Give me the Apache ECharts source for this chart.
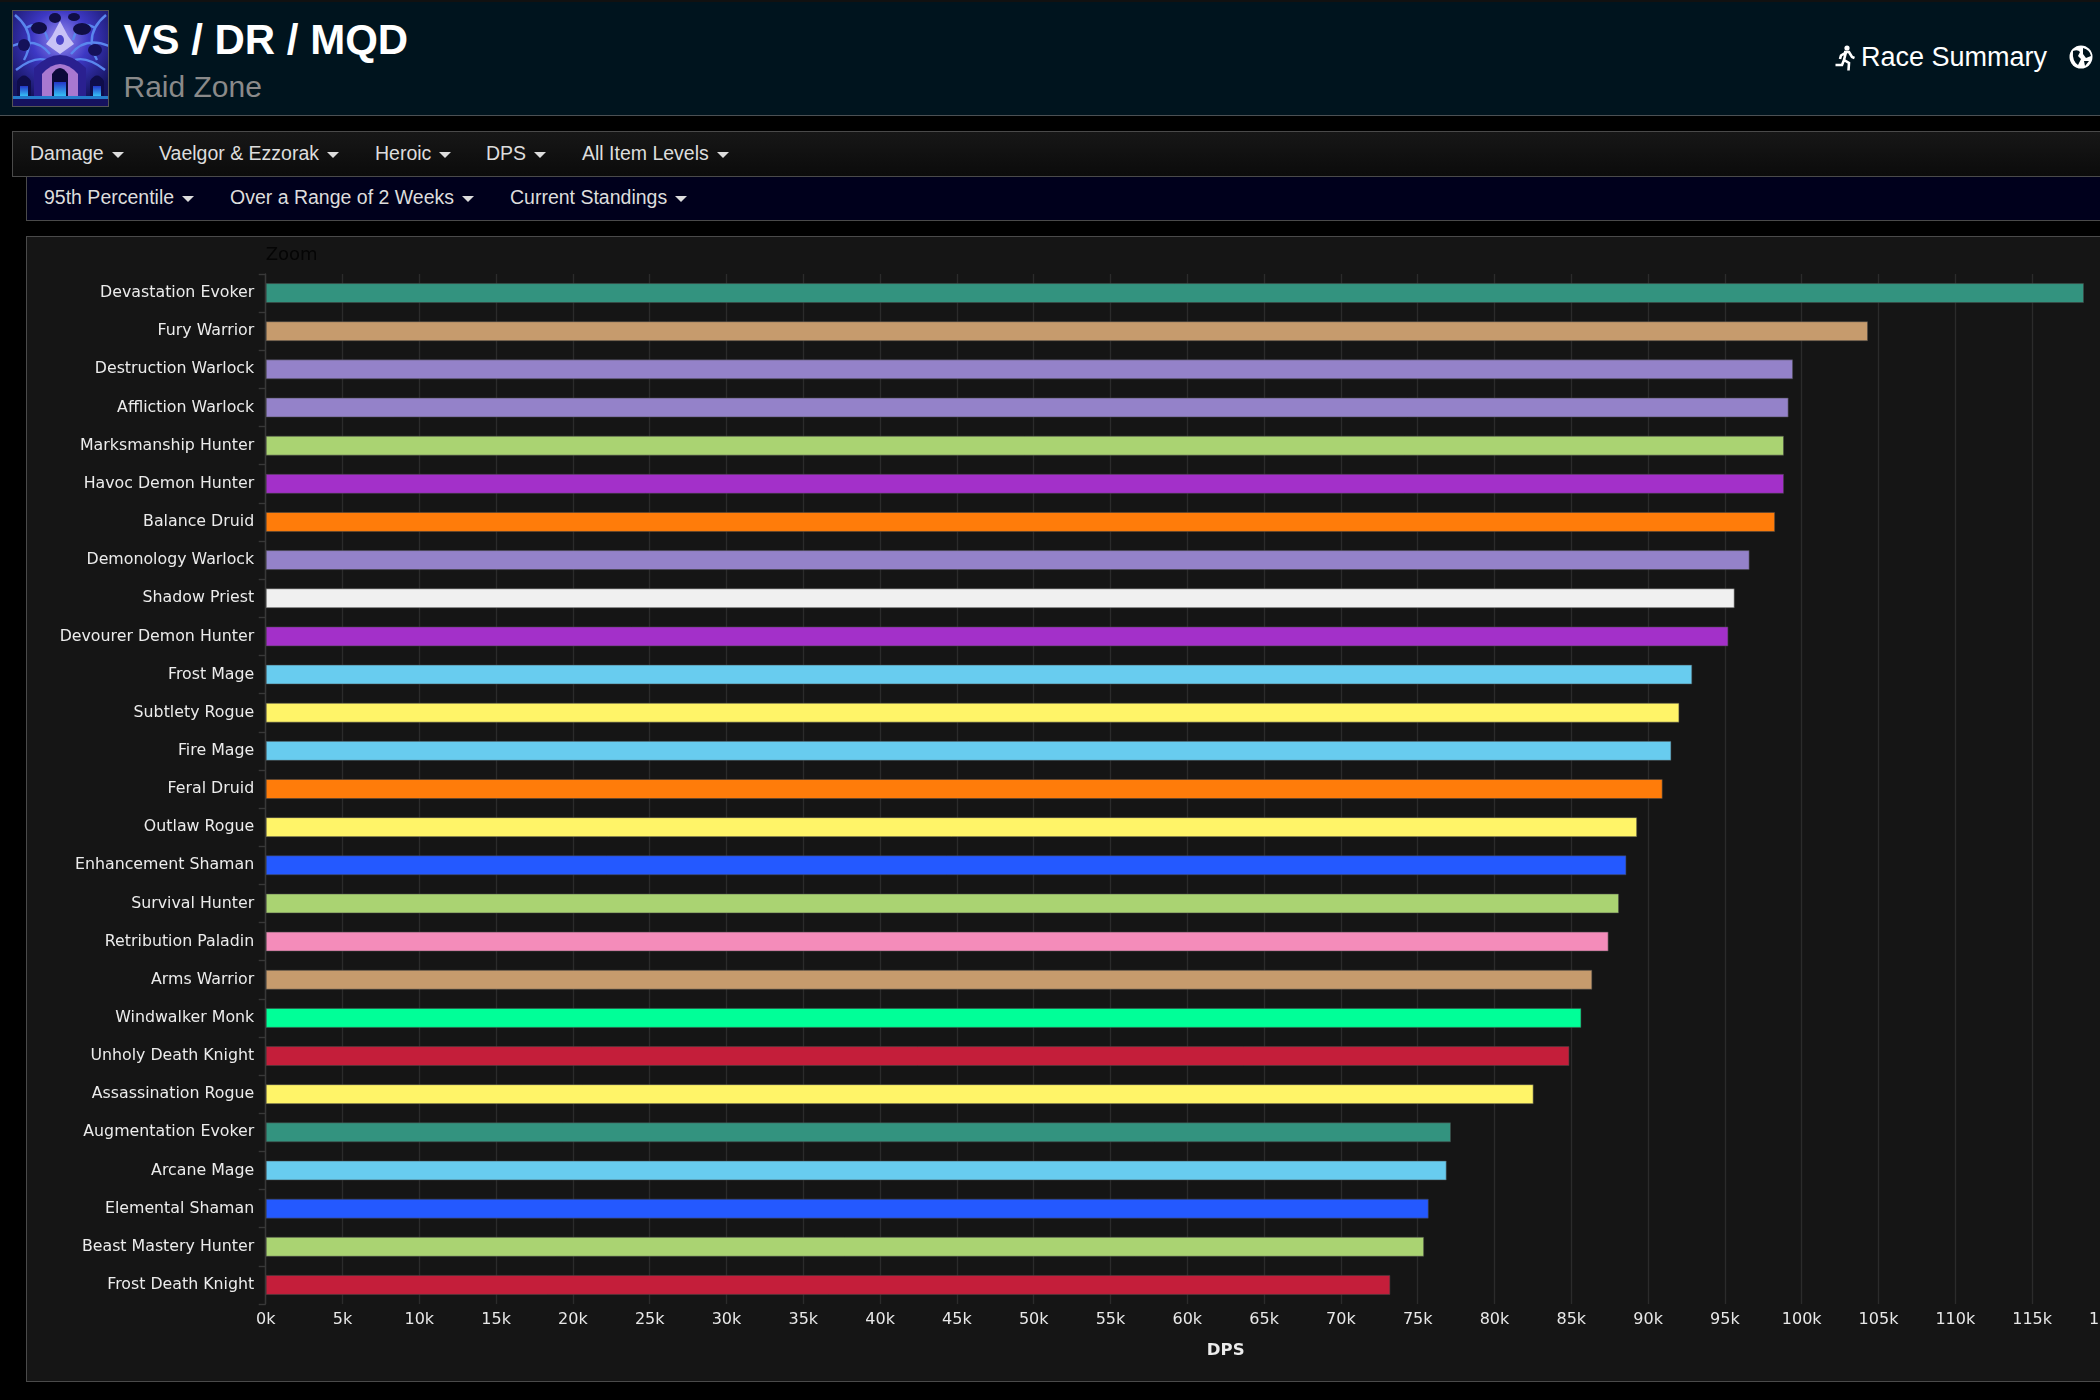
<!DOCTYPE html>
<html>
<head>
<meta charset="utf-8">
<title>VS / DR / MQD</title>
<style>
  html, body { margin: 0; padding: 0; width: 2100px; height: 1400px; overflow: hidden; background: #000; }
  body { font-family: "Liberation Sans", Arial, sans-serif; position: relative; }
  .box { position: absolute; box-sizing: border-box; }
  #header { left: 0; top: 2px; width: 2100px; height: 114px; background: #00141e; border-bottom: 1px solid #4b5054; }
  #topline { left: 0; top: 0; width: 2100px; height: 2px; background: #111; }
  #title { left: 123.5px; top: 16px; font-size: 42px; font-weight: bold; color: #fff; line-height: 48px; white-space: nowrap; }
  #subtitle { left: 123.5px; top: 69px; font-size: 30px; color: #8a8a8a; line-height: 36px; white-space: nowrap; }
  #race { left: 1861px; top: 41px; font-size: 27px; color: #fff; line-height: 32px; white-space: nowrap; }
  #menu1 { left: 12px; top: 131px; width: 2100px; height: 46px; border: 1px solid #4a4a4a; background: linear-gradient(#171717, #0b0b0b); }
  #menu2 { left: 26px; top: 176px; width: 2100px; height: 45px; border: 1px solid #4a4a4a; background: #00001c; }
  #panel { left: 26px; top: 236px; width: 2100px; height: 1146px; border: 1px solid #4a4a4a; background: #151515; }
  .item { position: absolute; font-size: 19.5px; color: #ddd; line-height: 24px; white-space: nowrap; }
  .item:after { content: ""; display: inline-block; margin-left: 8px; vertical-align: 2px;
    border-top: 6px solid #ddd; border-left: 6px solid transparent; border-right: 6px solid transparent; }
  #chart { position: absolute; left: 26px; top: 236px; width: 2300px; height: 1146px; }
</style>
</head>
<body>
<div class="box" id="topline"></div>
<div class="box" id="header"></div>

<svg class="box" style="left:12px;top:10px" width="97" height="97" viewBox="0 0 97 97">
  <defs>
    <radialGradient id="glow" cx="50%" cy="30%" r="65%">
      <stop offset="0" stop-color="#9a8ff0"/><stop offset="0.45" stop-color="#3d38c4"/><stop offset="1" stop-color="#15145f"/>
    </radialGradient>
    <linearGradient id="flame" x1="0" y1="0" x2="0" y2="1">
      <stop offset="0" stop-color="#2436c8"/><stop offset="1" stop-color="#35c0f5"/>
    </linearGradient>
  </defs>
  <rect width="97" height="97" fill="url(#glow)"/>
  <path d="M3 5 Q26 24 12 50 M94 5 Q71 24 85 50 M0 36 Q24 26 38 44 M97 36 Q73 26 59 44 M14 18 Q30 8 36 30 M83 18 Q67 8 61 30 M4 60 Q22 46 34 50 M93 60 Q75 46 63 50" stroke="#5a86ee" stroke-width="2.4" fill="none"/>
  <ellipse cx="27" cy="18" rx="8" ry="6" fill="#100e46"/><ellipse cx="70" cy="19" rx="9" ry="6" fill="#100e46"/>
  <ellipse cx="43" cy="8" rx="6" ry="5" fill="#100e46"/><ellipse cx="62" cy="7" rx="6" ry="4" fill="#100e46"/>
  <ellipse cx="83" cy="40" rx="7" ry="6" fill="#14115a"/><ellipse cx="12" cy="35" rx="6" ry="6" fill="#14115a"/>
  <path d="M48 11 L56 26 L62 34 L48 44 L34 34 L40 26 Z" fill="#c8c2f6"/>
  <ellipse cx="48" cy="30" rx="4" ry="5" fill="#4a44c8"/>
  <path d="M22 86 L22 58 Q48 32 74 58 L74 86 Z" fill="#2a2090"/>
  <path d="M30 86 L30 64 Q48 44 66 64 L66 86 Z" fill="#a878d0"/>
  <path d="M40 86 L40 64 Q48 52 56 64 L56 86 Z" fill="#0b0a3a"/>
  <rect x="42" y="72" width="12" height="14" fill="url(#flame)"/>
  <path d="M5 86 L5 71 Q12 60 19 71 L19 86 Z" fill="#0f0d4a"/>
  <path d="M78 86 L78 71 Q85 60 92 71 L92 86 Z" fill="#0f0d4a"/>
  <rect x="8" y="76" width="8" height="10" fill="url(#flame)"/><rect x="81" y="76" width="8" height="10" fill="url(#flame)"/>
  <rect x="0" y="86" width="97" height="3" fill="#2a9ff0" opacity="0.75"/>
  <rect x="0" y="89" width="97" height="8" fill="#15125f"/>
  <rect x="0.5" y="0.5" width="96" height="96" fill="none" stroke="#555"/>
</svg>
<div class="box" id="title">VS / DR / MQD</div>
<div class="box" id="subtitle">Raid Zone</div>

<svg class="box" style="left:1835px;top:45px" width="20" height="26" viewBox="0 0 20 26">
  <circle cx="12" cy="3" r="2.6" fill="#fff"/>
  <path d="M9 7 L14 7 L17 12 L19.5 13 M11 7 L9 15 L14 18 L13.5 25.5 M9 15 L7 20 L0.5 20 M10 8 L6 10.5 L5 14" stroke="#fff" stroke-width="2.6" fill="none"/>
</svg>
<div class="box" id="race">Race Summary</div>
<svg class="box" style="left:2069px;top:45px" width="24" height="24" viewBox="0 0 24 24">
  <circle cx="12" cy="12" r="11.5" fill="#fff"/>
  <path d="M4 6 Q9 4 11 7 L9 11 L12 14 L9 20 Q3 16 4 6 Z M14 3 Q21 5 22 11 L17 13 L14 9 Z M15 16 L20 16 L16 21 Z" fill="#00141e"/>
</svg>

<div class="box" id="menu1"></div>
<div class="box" id="menu2"></div>
<div class="box" id="panel"></div>
<div id="chart"></div>

<script src="https://cdn.jsdelivr.net/npm/echarts@6/dist/echarts.min.js"></script>
<script>
  // menu labels with their left edges
  var menuRow1 = ['Damage', 'Vaelgor & Ezzorak', 'Heroic', 'DPS', 'All Item Levels'];
  var menuRow1Left = [30, 159, 375, 486, 582];
  var menuRow2 = ['95th Percentile', 'Over a Range of 2 Weeks', 'Current Standings'];
  var menuRow2Left = [44, 230, 510];

  var categories = [
    'Devastation Evoker', 'Fury Warrior', 'Destruction Warlock', 'Affliction Warlock',
    'Marksmanship Hunter', 'Havoc Demon Hunter', 'Balance Druid', 'Demonology Warlock',
    'Shadow Priest', 'Devourer Demon Hunter', 'Frost Mage', 'Subtlety Rogue', 'Fire Mage',
    'Feral Druid', 'Outlaw Rogue', 'Enhancement Shaman', 'Survival Hunter', 'Retribution Paladin',
    'Arms Warrior', 'Windwalker Monk', 'Unholy Death Knight', 'Assassination Rogue',
    'Augmentation Evoker', 'Arcane Mage', 'Elemental Shaman', 'Beast Mastery Hunter', 'Frost Death Knight'
  ];
  var dps = [
    118380, 104320, 99440, 99150, 98850, 98850, 98270, 96610, 95640, 95230, 92880, 92040, 91520,
    90950, 89290, 88590, 88110, 87430, 86370, 85660, 84880, 82550, 77170, 76890, 75720, 75420, 73220
  ];
  var barColors = [
    '#33937f', '#c69b6d', '#9482c9', '#9482c9', '#aad372', '#a330c9', '#ff7c0a', '#9482c9',
    '#f0f0f0', '#a330c9', '#68ccef', '#fff468', '#68ccef', '#ff7c0a', '#fff468', '#2459ff',
    '#aad372', '#f48cba', '#c69b6d', '#00ff98', '#c41e3a', '#fff468', '#33937f', '#68ccef',
    '#2459ff', '#aad372', '#c41e3a'
  ];

  function addMenu(labels, lefts, top) {
    labels.forEach(function (text, i) {
      var el = document.createElement('div');
      el.className = 'item';
      el.textContent = text;
      el.style.left = lefts[i] + 'px';
      el.style.top = top + 'px';
      document.body.appendChild(el);
    });
  }
  addMenu(menuRow1, menuRow1Left, 141);
  addMenu(menuRow2, menuRow2Left, 185);

  var labelFont = '"DejaVu Sans", sans-serif';
  var chart = echarts.init(document.getElementById('chart'), null, { renderer: 'canvas' });
  chart.setOption({
    animation: false,
    backgroundColor: 'transparent',
    title: {
      text: 'Zoom', left: 239.7, top: 10, padding: 0,
      textStyle: { color: '#050505', fontSize: 18, fontWeight: 'normal', fontFamily: labelFont }
    },
    grid: { left: 239.7, top: 38, width: 1920, height: 1030, containLabel: false },
    xAxis: {
      type: 'value',
      min: 0,
      max: 125000,
      interval: 5000,
      name: 'DPS',
      nameLocation: 'middle',
      nameGap: 38,
      nameTextStyle: { color: '#ececec', fontSize: 16.5, fontWeight: 'bold', fontFamily: labelFont },
      axisLine: { show: false },
      axisTick: { show: false },
      axisLabel: {
        color: '#e8e8e8', fontSize: 16, fontFamily: labelFont, margin: 8,
        formatter: function (v) { return (v / 1000) + 'k'; }
      },
      splitLine: { show: true, lineStyle: { color: '#2b2b2b', width: 1.4 } }
    },
    yAxis: {
      type: 'category',
      data: categories,
      inverse: true,
      axisLine: { lineStyle: { color: '#383838', width: 1.4 } },
      axisTick: { show: true, length: 7, lineStyle: { color: '#383838', width: 1.4 } },
      axisLabel: { color: '#ececec', fontSize: 15.8, fontFamily: labelFont, margin: 11.5 }
    },
    series: [{
      type: 'bar',
      barWidth: 20,
      data: dps.map(function (v, i) {
        return {
          value: v,
          itemStyle: { color: barColors[i], borderColor: 'rgba(70,70,70,0.55)', borderWidth: 1 }
        };
      })
    }]
  });
</script>
</body>
</html>
